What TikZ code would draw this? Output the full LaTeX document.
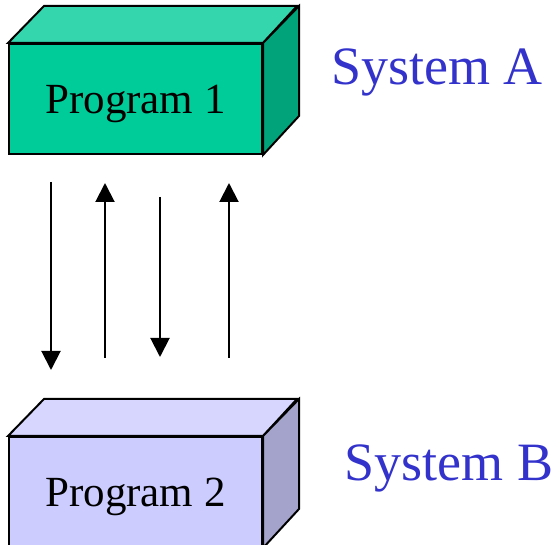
\documentclass[tikz,border=0pt]{standalone}
\usepackage{fontspec}
\setmainfont{Liberation Serif}
\usetikzlibrary{arrows.meta,positioning}
\definecolor{greenfront}{RGB}{0,204,153}
\definecolor{greentop}{RGB}{51,214,173}
\definecolor{greenside}{RGB}{0,163,122}
\definecolor{bluefront}{RGB}{204,204,255}
\definecolor{bluetop}{RGB}{214,214,255}
\definecolor{blueside}{RGB}{163,163,204}
\definecolor{syscolor}{RGB}{51,51,204}

\begin{document}
\begin{tikzpicture}[x=1pt,y=-1pt,
  front/.style={rectangle, draw, line width=2pt, minimum width=253pt, minimum height=110pt, inner sep=0pt, text depth=0pt, font=\fontsize{43}{50}\selectfont},
  face/.style={draw, line width=2pt, line join=miter},
  sys/.style={anchor=base, text=syscolor, font=\fontsize{54}{60}\selectfont},
  flow/.style={line width=2pt, -{Triangle[length=19pt,width=19pt]}}]
\useasboundingbox (0,0) rectangle (560,545);

\node (prog1) [front, fill=greenfront] at (135.5,99) {Program 1};
\draw [face, fill=greentop] (prog1.north west) -- ++(36,-37) -- ++(253,0) -- (prog1.north east) -- cycle;
\draw [face, fill=greenside] (prog1.north east) -- ++(36,-37) -- ++(0,110) -- (prog1.south east) -- cycle;

\node (prog2) [front, fill=bluefront] at (135.5,492) {Program 2};
\draw [face, fill=bluetop] (prog2.north west) -- ++(36,-37) -- ++(253,0) -- (prog2.north east) -- cycle;
\draw [face, fill=blueside] (prog2.north east) -- ++(36,-37) -- ++(0,110) -- (prog2.south east) -- cycle;

\node (sysA) [sys] at (437,85) {System A};
\node (sysB) [sys] at (449,480) {System B};

\coordinate (out1) at (51,182);  \coordinate (in1) at (51,370);
\coordinate (out2) at (105,358); \coordinate (in2) at (105,183);
\coordinate (out3) at (160,197); \coordinate (in3) at (160,357);
\coordinate (out4) at (229,358); \coordinate (in4) at (229,183);

\draw [flow] (out1) -- (in1);
\draw [flow] (out2) -- (in2);
\draw [flow] (out3) -- (in3);
\draw [flow] (out4) -- (in4);
\end{tikzpicture}
\end{document}
